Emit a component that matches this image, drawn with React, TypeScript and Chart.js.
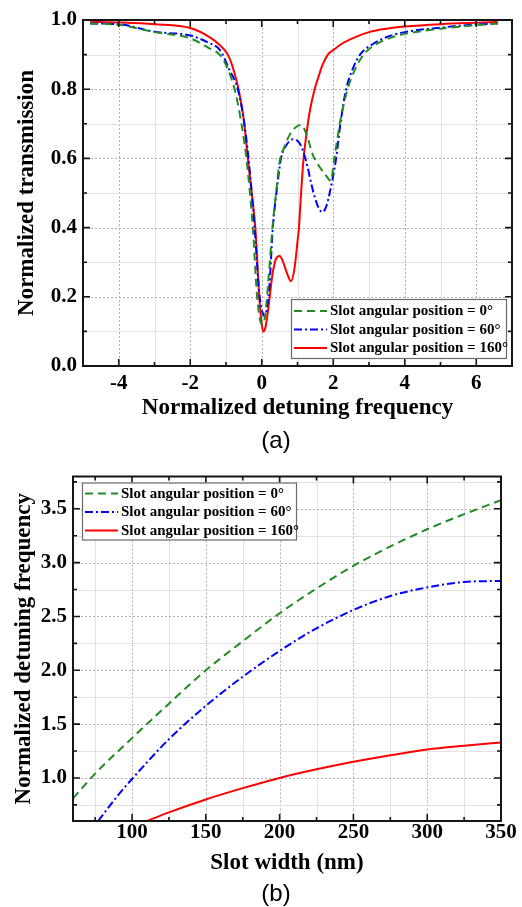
import React, { useEffect, useRef } from 'react';
import { Chart, registerables } from 'chart.js';

Chart.register(...registerables);

const SERIF = "'Liberation Serif', 'Times New Roman', serif";
const SANS = "'Liberation Sans', Arial, sans-serif";

// ---------- Panel (a): transmission vs detuning ----------
const detuning0 = [-4.8, -4, -3, -2, -1.5, -1.18, -1, -0.76, -0.6, -0.43, -0.25, -0.13, -0.04, 0.03, 0.1, 0.18, 0.3, 0.4, 0.5, 0.64, 0.78, 0.95, 1.1, 1.25, 1.43, 1.62, 1.8, 1.93, 2.03, 2.2, 2.4, 2.6, 2.85, 3.2, 3.7, 4.3, 5.0, 6.0, 6.6];
const transmission0 = [0.99, 0.986, 0.965, 0.947, 0.92, 0.9, 0.87, 0.8, 0.72, 0.6, 0.4, 0.2, 0.13, 0.12, 0.15, 0.24, 0.4, 0.5, 0.59, 0.635, 0.668, 0.69, 0.697, 0.67, 0.61, 0.575, 0.55, 0.535, 0.6, 0.71, 0.8, 0.855, 0.9, 0.93, 0.952, 0.965, 0.975, 0.985, 0.99];

const detuning60 = [-4.8, -4, -3, -2, -1.5, -1.17, -0.9, -0.67, -0.5, -0.37, -0.2, -0.06, 0.02, 0.08, 0.15, 0.22, 0.31, 0.41, 0.54, 0.7, 0.87, 1.05, 1.22, 1.45, 1.6, 1.7, 1.8, 1.9, 2.08, 2.2, 2.36, 2.55, 2.75, 3.1, 3.48, 4.0, 5.0, 6.0, 6.6];
const transmission60 = [0.99, 0.988, 0.966, 0.955, 0.935, 0.913, 0.855, 0.8, 0.71, 0.6, 0.4, 0.2, 0.155, 0.145, 0.17, 0.24, 0.4, 0.5, 0.6, 0.64, 0.655, 0.645, 0.6, 0.5, 0.455, 0.445, 0.46, 0.5, 0.6, 0.7, 0.8, 0.86, 0.9, 0.93, 0.95, 0.965, 0.978, 0.987, 0.99];

const detuning160 = [-4.8, -4, -3, -2, -1.45, -1.2, -0.95, -0.8, -0.65, -0.5, -0.39, -0.28, -0.18, -0.07, 0, 0.04, 0.1, 0.2, 0.3, 0.4, 0.5, 0.6, 0.7, 0.82, 0.92, 1.0, 1.04, 1.1, 1.17, 1.25, 1.35, 1.48, 1.6, 1.7, 1.85, 2.0, 2.3, 2.6, 3.0, 3.5, 4.0, 5.0, 6.0, 6.6];
const transmission160 = [0.995, 0.993, 0.988, 0.977, 0.95, 0.93, 0.9, 0.86, 0.8, 0.71, 0.6, 0.5, 0.4, 0.2, 0.12, 0.1, 0.11, 0.18, 0.265, 0.31, 0.318, 0.3, 0.27, 0.245, 0.285, 0.36, 0.4, 0.5, 0.6, 0.67, 0.74, 0.8, 0.84, 0.87, 0.9, 0.913, 0.935, 0.95, 0.965, 0.975, 0.981, 0.988, 0.992, 0.994];

// ---------- Panel (b): detuning vs slot width ----------
const width0 = [60, 75, 100, 125, 150, 175, 200, 225, 250, 275, 300, 325, 350];
const freq0 = [0.81, 1.04, 1.37, 1.69, 2.0, 2.27, 2.53, 2.76, 2.97, 3.15, 3.31, 3.45, 3.58];

const width60 = [77, 90, 100, 125, 150, 175, 200, 225, 250, 275, 300, 325, 350];
const freq60 = [0.6, 0.83, 0.99, 1.36, 1.67, 1.94, 2.18, 2.39, 2.56, 2.69, 2.77, 2.82, 2.83];

const width160 = [110, 125, 150, 175, 200, 225, 250, 275, 300, 325, 350];
const freq160 = [0.6, 0.68, 0.8, 0.905, 1.0, 1.08, 1.15, 1.21, 1.265, 1.3, 1.33];

const seriesLabels = ['Slot angular position = 0°', 'Slot angular position = 60°', 'Slot angular position = 160°'];

// styles
const COLORS = ['#228b22', '#0000ff', '#ff0000'];
const DASHES: number[][] = [[8, 5], [8, 3, 2, 3], []];

const toPts = (xs: number[], ys: number[]) => xs.map((x, i) => ({ x, y: ys[i] }));

function makeDatasets(pairs: [number[], number[]][]) {
  return pairs.map(([xs, ys], i) => ({
    label: seriesLabels[i],
    data: toPts(xs, ys),
    borderColor: COLORS[i],
    backgroundColor: COLORS[i],
    borderDash: DASHES[i],
    borderWidth: 2,
    pointRadius: 0,
    cubicInterpolationMode: 'monotone' as const,
    fill: false,
  }));
}

type LegendCfg = { dx: number; dy: number; w: number; h: number; row0: number; gap: number };

function makeDecor(legend: LegendCfg) {
  return {
    id: 'decor',
    beforeDatasetsDraw(chart: any) {
      const { ctx, chartArea: a, scales } = chart;
      ctx.save();
      const grid = (scale: any, vertical: boolean) => {
        scale.ticks.forEach((t: any) => {
          const v = t.value;
          if (v <= scale.min + 1e-9 || v >= scale.max - 1e-9) return;
          const p = Math.round(scale.getPixelForValue(v)) + 0.5;
          const major = !!t.label;
          ctx.beginPath();
          ctx.lineWidth = 1;
          ctx.strokeStyle = major ? '#b0b0b0' : '#e2e2e2';
          ctx.setLineDash(major ? [2, 2] : []);
          if (vertical) {
            ctx.moveTo(p, a.top);
            ctx.lineTo(p, a.bottom);
          } else {
            ctx.moveTo(a.left, p);
            ctx.lineTo(a.right, p);
          }
          ctx.stroke();
        });
      };
      grid(scales.x, true);
      grid(scales.y, false);
      ctx.restore();
    },
    afterDatasetsDraw(chart: any) {
      const { ctx, chartArea: a, scales } = chart;
      ctx.save();
      ctx.setLineDash([]);
      ctx.strokeStyle = '#151515';
      ctx.lineWidth = 1.6;
      // inward tick marks
      scales.x.ticks.forEach((t: any) => {
        const v = t.value;
        if (v <= scales.x.min + 1e-9 || v >= scales.x.max - 1e-9) return;
        const p = scales.x.getPixelForValue(v);
        const len = t.label ? 7 : 4;
        ctx.beginPath();
        ctx.moveTo(p, a.bottom);
        ctx.lineTo(p, a.bottom - len);
        ctx.moveTo(p, a.top);
        ctx.lineTo(p, a.top + len);
        ctx.stroke();
      });
      scales.y.ticks.forEach((t: any) => {
        const v = t.value;
        if (v <= scales.y.min + 1e-9 || v >= scales.y.max - 1e-9) return;
        const p = scales.y.getPixelForValue(v);
        const len = t.label ? 7 : 4;
        ctx.beginPath();
        ctx.moveTo(a.left, p);
        ctx.lineTo(a.left + len, p);
        ctx.moveTo(a.right, p);
        ctx.lineTo(a.right - len, p);
        ctx.stroke();
      });
      // frame
      ctx.lineWidth = 2;
      ctx.strokeRect(a.left, a.top, a.right - a.left, a.bottom - a.top);

      // legend
      const bx = a.left + legend.dx;
      const by = a.top + legend.dy;
      ctx.fillStyle = '#ffffff';
      ctx.fillRect(bx, by, legend.w, legend.h);
      ctx.lineWidth = 1.2;
      ctx.strokeStyle = '#6a6a6a';
      ctx.strokeRect(bx + 0.5, by + 0.5, legend.w, legend.h);
      ctx.font = `bold 15px ${SERIF}`;
      ctx.textBaseline = 'middle';
      ctx.textAlign = 'left';
      chart.data.datasets.forEach((ds: any, i: number) => {
        const y = by + legend.row0 + i * legend.gap;
        ctx.beginPath();
        ctx.strokeStyle = ds.borderColor;
        ctx.lineWidth = 2;
        ctx.setLineDash(ds.borderDash || []);
        ctx.moveTo(bx + 3, y);
        ctx.lineTo(bx + 36, y);
        ctx.stroke();
        ctx.setLineDash([]);
        ctx.fillStyle = '#000';
        ctx.fillText(ds.label, bx + 39, y + 0.5);
      });
      ctx.restore();
    },
  };
}

const tickFont = { family: SERIF, size: 21, weight: 'bold' as const, lineHeight: 1 };
const titleFont = { family: SERIF, size: 23, weight: 'bold' as const, lineHeight: 1 };

export default function App() {
  const refA = useRef<HTMLCanvasElement>(null);
  const refB = useRef<HTMLCanvasElement>(null);

  useEffect(() => {
    const chartA = new Chart(refA.current!, {
      type: 'line',
      data: {
        datasets: makeDatasets([
          [detuning0, transmission0],
          [detuning60, transmission60],
          [detuning160, transmission160],
        ]) as any,
      },
      options: {
        responsive: false,
        animation: false,
        layout: { padding: { left: 0, right: 10, top: 20, bottom: 0 } },
        plugins: { legend: { display: false }, tooltip: { enabled: false } },
        scales: {
          x: {
            type: 'linear',
            min: -5,
            max: 7,
            ticks: {
              stepSize: 1,
              autoSkip: false,
              maxRotation: 0,
              padding: 7,
              color: '#000',
              font: tickFont,
              callback: (v: any) => (Math.round(v) % 2 === 0 ? String(Math.round(v)) : ''),
            },
            grid: { display: false, drawTicks: false, tickLength: 0 },
            border: { display: false },
            title: {
              display: true,
              text: 'Normalized detuning frequency',
              color: '#000',
              font: titleFont,
              padding: { top: 0, bottom: 40 },
            },
            afterFit: (s: any) => {
              s.height = 94;
            },
          },
          y: {
            type: 'linear',
            min: 0,
            max: 1,
            ticks: {
              stepSize: 0.1,
              autoSkip: false,
              padding: 6,
              color: '#000',
              font: tickFont,
              callback: (v: any) => {
                const k = Math.round(v * 10);
                return k % 2 === 0 ? (k / 10).toFixed(1) : '';
              },
            },
            grid: { display: false, drawTicks: false, tickLength: 0 },
            border: { display: false },
            title: {
              display: true,
              text: 'Normalized transmission',
              color: '#000',
              font: titleFont,
              padding: { top: 16, bottom: 0 },
            },
            afterFit: (s: any) => {
              s.width = 83;
            },
          },
        },
      },
      plugins: [makeDecor({ dx: 208, dy: 279, w: 215, h: 59, row0: 12, gap: 18.5 })],
    } as any);

    const chartB = new Chart(refB.current!, {
      type: 'line',
      data: {
        datasets: makeDatasets([
          [width0, freq0],
          [width60, freq60],
          [width160, freq160],
        ]) as any,
      },
      options: {
        responsive: false,
        animation: false,
        layout: { padding: { left: 0, right: 21, top: 16, bottom: 0 } },
        plugins: { legend: { display: false }, tooltip: { enabled: false } },
        scales: {
          x: {
            type: 'linear',
            min: 60,
            max: 350,
            ticks: {
              stepSize: 25,
              includeBounds: false,
              autoSkip: false,
              maxRotation: 0,
              padding: 1,
              color: '#000',
              font: tickFont,
              callback: (v: any) => (Math.round(v) % 50 === 0 ? String(Math.round(v)) : ''),
            },
            grid: { display: false, drawTicks: false, tickLength: 0 },
            border: { display: false },
            title: {
              display: true,
              text: 'Slot width (nm)',
              color: '#000',
              font: titleFont,
              padding: { top: 0, bottom: 32 },
            },
            afterFit: (s: any) => {
              s.height = 86;
            },
          },
          y: {
            type: 'linear',
            min: 0.6,
            max: 3.8,
            ticks: {
              stepSize: 0.25,
              includeBounds: false,
              autoSkip: false,
              padding: 6,
              color: '#000',
              font: tickFont,
              callback: (v: any) => {
                const k = Math.round(v * 4);
                return Math.abs(v * 4 - k) < 1e-6 && k % 2 === 0 ? (k / 4).toFixed(1) : '';
              },
            },
            grid: { display: false, drawTicks: false, tickLength: 0 },
            border: { display: false },
            title: {
              display: true,
              text: 'Normalized detuning frequency',
              color: '#000',
              font: titleFont,
              padding: { top: 13, bottom: 0 },
            },
            afterFit: (s: any) => {
              s.width = 73;
            },
          },
        },
      },
      plugins: [makeDecor({ dx: 9, dy: 6, w: 214, h: 57, row0: 11, gap: 18.5 })],
    } as any);

    return () => {
      chartA.destroy();
      chartB.destroy();
    };
  }, []);

  const caption: React.CSSProperties = {
    position: 'absolute',
    left: 246,
    width: 60,
    textAlign: 'center',
    fontFamily: SANS,
    fontSize: 24,
    lineHeight: '24px',
    color: '#000',
  };

  return (
    <div style={{ position: 'absolute', left: 0, top: 0, width: 522, height: 907, background: '#fff' }}>
      <canvas ref={refA} width={522} height={460} style={{ position: 'absolute', left: 0, top: 0, display: 'block' }} />
      <canvas ref={refB} width={522} height={447} style={{ position: 'absolute', left: 0, top: 460, display: 'block' }} />
      <div style={{ ...caption, top: 428 }}>(a)</div>
      <div style={{ ...caption, top: 881 }}>(b)</div>
    </div>
  );
}
